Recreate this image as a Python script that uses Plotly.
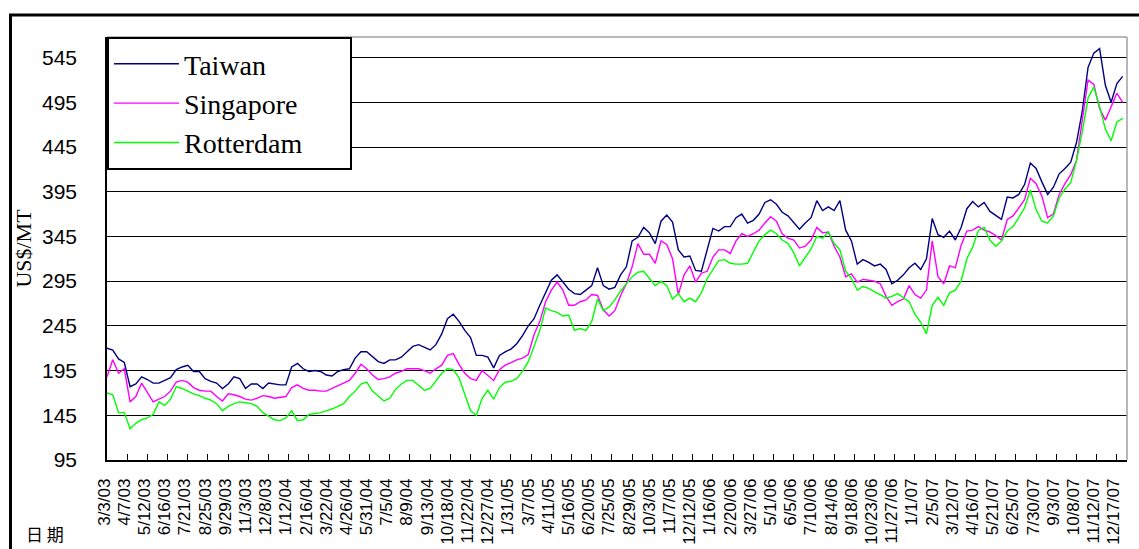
import pandas as pd
import plotly.graph_objects as go

# ---- data -----------------------------------------------------------------
# sampling grid: one reading every 10 days starting 3/3/03
START = "2003-03-03"
N_POINTS = 177
STEP = "10D"

TICK_LABELS = [
    "3/3/03", "4/7/03", "5/12/03", "6/16/03", "7/21/03", "8/25/03", "9/29/03",
    "11/3/03", "12/8/03", "1/12/04", "2/16/04", "3/22/04", "4/26/04", "5/31/04",
    "7/5/04", "8/9/04", "9/13/04", "10/18/04", "11/22/04", "12/27/04", "1/31/05",
    "3/7/05", "4/11/05", "5/16/05", "6/20/05", "7/25/05", "8/29/05", "10/3/05",
    "11/7/05", "12/12/05", "1/16/06", "2/20/06", "3/27/06", "5/1/06", "6/5/06",
    "7/10/06", "8/14/06", "9/18/06", "10/23/06", "11/27/06", "1/1/07", "2/5/07",
    "3/12/07", "4/16/07", "5/21/07", "6/25/07", "7/30/07", "9/3/07", "10/8/07",
    "11/12/07", "12/17/07",
]

Y_TICKS = [95, 145, 195, 245, 295, 345, 395, 445, 495, 545]

taiwan = [
    220, 218, 208, 204, 177, 180, 188, 185, 181, 181,
    184, 187, 196, 199, 201, 194, 194, 186, 183, 181,
    175, 180, 188, 186, 175, 180, 180, 175, 181, 180,
    179, 179, 199, 203, 197, 194, 195, 194, 190, 189,
    194, 196, 197, 209, 216, 216, 210, 205, 203, 207,
    207, 210, 216, 222, 224, 221, 218, 224, 236, 253,
    258, 250, 240, 232, 212, 212, 210, 198, 212, 216,
    219, 225, 234, 245, 253, 268, 282, 296, 302, 294,
    286, 281, 280, 285, 290, 310, 290, 286, 288, 302,
    311, 340, 344, 355, 349, 337, 362, 369, 361, 330,
    322, 323, 307, 306, 330, 354, 351, 356, 356, 366,
    370, 360, 363, 370, 383, 386, 381, 372, 368, 360,
    353, 360, 366, 385, 374, 378, 374, 385, 352, 340,
    314, 319, 316, 312, 314, 308, 292, 296, 302, 310,
    315, 308, 320, 365, 347, 344, 351, 341, 355, 376,
    384, 378, 383, 373, 368, 364, 389, 388, 392, 403,
    427, 421, 406, 392, 400, 415, 421, 428, 450, 485,
    534, 550, 555, 514, 495, 516, 524,
]

singapore = [
    188, 207, 192, 197, 160, 166, 181, 170, 160, 163,
    166, 172, 182, 184, 182, 176, 173, 172, 172, 166,
    161, 169, 168, 166, 163, 162, 164, 167, 166, 164,
    165, 166, 176, 179, 175, 173, 173, 172, 172, 175,
    178, 181, 184, 192, 202, 197, 190, 185, 186, 188,
    192, 194, 197, 197, 197, 195, 192, 197, 201, 212,
    214, 202, 192, 186, 184, 195, 189, 184, 196, 201,
    204, 207, 209, 213, 235, 250, 272, 285, 294, 285,
    268, 268, 272, 274, 280, 279, 263, 256, 262, 279,
    292, 311, 337, 325, 325, 315, 340, 336, 320, 280,
    302, 312, 294, 304, 306, 322, 330, 330, 326, 340,
    348, 345, 348, 352, 360, 367, 362, 348, 343, 341,
    332, 334, 341, 355, 349, 350, 334, 322, 300, 303,
    294, 297, 296, 295, 292, 278, 268, 272, 275, 290,
    280, 276, 285, 340, 300, 292, 312, 310, 335, 351,
    352, 356, 352, 350, 346, 341, 364, 368, 377, 386,
    410, 404, 390, 366, 370, 392, 404, 414, 430, 478,
    520, 515, 488, 475, 490, 505, 495,
]

rotterdam = [
    170, 168, 148, 148, 130, 136, 140, 142, 146, 160,
    156, 163, 177, 175, 172, 169, 167, 164, 162, 158,
    150, 155, 158, 160, 159, 158, 155, 148, 144, 140,
    139, 142, 150, 139, 140, 146, 147, 148, 150, 152,
    155, 158, 166, 172, 180, 182, 172, 166, 161, 164,
    174, 180, 184, 184, 179, 173, 175, 184, 192, 197,
    196, 187, 168, 150, 145, 164, 173, 163, 176, 182,
    183, 186, 194, 205, 222, 240, 265, 262, 260, 256,
    257, 240, 242, 240, 250, 275, 262, 266, 274, 284,
    292, 300, 305, 306, 298, 290, 295, 290, 275, 281,
    272, 276, 272, 282, 298, 308, 318, 319, 315, 314,
    314, 315, 328, 340, 347, 352, 348, 341, 337, 327,
    312, 322, 331, 345, 343, 350, 337, 330, 306, 298,
    285, 289, 287, 283, 280, 276, 278, 281, 276, 272,
    258, 249, 236, 268, 277, 268, 282, 285, 295, 320,
    333, 352, 355, 341, 334, 340, 351, 356, 366, 377,
    397, 375, 362, 360, 368, 388, 398, 405, 430, 462,
    500, 512, 490, 465, 452, 473, 477,
]

SERIES = [
    ("Taiwan", taiwan, "#000080"),
    ("Singapore", singapore, "#FF00FF"),
    ("Rotterdam", rotterdam, "#00FF00"),
]

# ---- layout geometry (pixels) -----------------------------------------------
W, H = 1139, 549
L, R, T, B = 107, 12, 37, 89
PW, PH = W - L - R, H - T - B

dates = pd.date_range(START, periods=N_POINTS, freq=STEP)
tick_dates = pd.to_datetime(TICK_LABELS, format="%m/%d/%y")

# trailing no-break spaces widen the legend box a little
LEGEND_PAD = "\u00a0" * 6


def px_x(p):
    return (p - L) / PW


def px_y(p):
    return (H - B - p) / PH


fig = go.Figure()
for name, vals, color in SERIES:
    fig.add_trace(go.Scatter(
        x=dates[:len(vals)], y=vals, name=name + LEGEND_PAD, mode="lines",
        line=dict(color=color, width=1.4),
    ))

serif = "Liberation Serif, Times New Roman, serif"
sans = "Liberation Sans, Arial, sans-serif"

fig.update_layout(
    width=W, height=H,
    margin=dict(l=L, r=R, t=T, b=B, autoexpand=False),
    paper_bgcolor="white", plot_bgcolor="white",
    showlegend=True,
    legend=dict(
        x=0, y=1, xanchor="left", yanchor="top",
        bgcolor="white", bordercolor="black", borderwidth=2,
        font=dict(family=serif, size=28, color="black"),
        itemwidth=65, tracegroupgap=0,
    ),
    xaxis=dict(
        type="date",
        range=["2003-03-03", "2008-01-03 12:00"],
        tickvals=tick_dates, ticktext=TICK_LABELS,
        tickangle=-90, ticks="inside", ticklen=6, tickcolor="black", tickwidth=1,
        tickfont=dict(family=sans, size=17, color="black"),
        ticklabelstandoff=10, ticklabelshift=-3,
        showgrid=False, zeroline=False,
        showline=True, linecolor="black", linewidth=1.5,
        automargin=False,
    ),
    yaxis=dict(
        range=[95, 568],
        tickvals=Y_TICKS,
        tickfont=dict(family=sans, size=21, color="black"),
        ticklabelstandoff=24,
        showgrid=True, gridcolor="black", gridwidth=1,
        zeroline=False,
        showline=True, linecolor="black", linewidth=1.5,
        title=dict(text="US$/MT", font=dict(family=serif, size=22, color="black"), standoff=4),
        automargin=False,
    ),
    shapes=[
        # light frame on the top and right side of the plotting area
        dict(type="line", xref="paper", yref="paper", x0=0, x1=1, y0=1, y1=1,
             line=dict(color="#A0A0A0", width=1.5)),
        dict(type="line", xref="paper", yref="paper", x0=1, x1=1, y0=0, y1=1,
             line=dict(color="#A0A0A0", width=1.5)),
        # heavy outer chart frame
        dict(type="rect", xref="paper", yref="paper",
             x0=px_x(10.5), x1=px_x(W + 20), y0=px_y(H + 20), y1=px_y(15),
             line=dict(color="black", width=3), fillcolor="rgba(0,0,0,0)"),
    ],
    annotations=[
        dict(text="日 期", xref="paper", yref="paper", x=px_x(45), y=px_y(533),
             xanchor="center", yanchor="middle", showarrow=False,
             font=dict(family="Noto Sans CJK TC", size=17, color="black")),
    ],
)

fig.write_html("out.html")
